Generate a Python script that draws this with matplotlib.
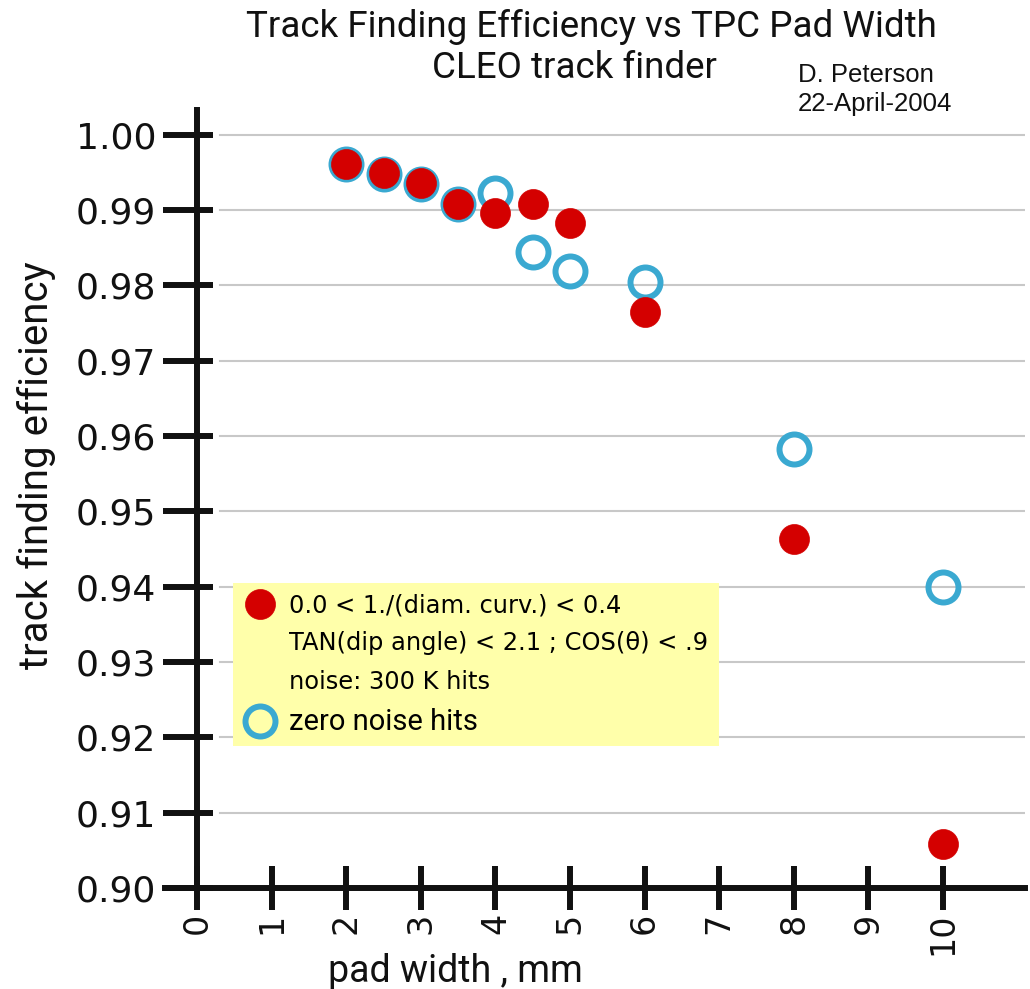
import matplotlib
matplotlib.use('Agg')
import matplotlib.pyplot as plt
from matplotlib.lines import Line2D

# pad width in mm
pad_width = [2, 2.5, 3, 3.5, 4, 4.5, 5, 6, 8, 10]
# efficiency with 300 K noise hits (red dots)
eff_noise = [0.9961, 0.9949, 0.9936, 0.9908, 0.9896, 0.9908, 0.9883, 0.9765, 0.9464, 0.9059]
# efficiency with zero noise hits (blue rings)
eff_zero = [0.9961, 0.9948, 0.9935, 0.9908, 0.9923, 0.9844, 0.9819, 0.9805, 0.9583, 0.9399]

x_ticks = [0, 1, 2, 3, 4, 5, 6, 7, 8, 9, 10]
y_ticks = [0.90, 0.91, 0.92, 0.93, 0.94, 0.95, 0.96, 0.97, 0.98, 0.99, 1.00]
y_tick_labels = ['0.90', '0.91', '0.92', '0.93', '0.94', '0.95',
                 '0.96', '0.97', '0.98', '0.99', '1.00']

legend_labels = ['0.0 < 1./(diam. curv.) < 0.4',
                 'TAN(dip angle) < 2.1 ; COS(θ) < .9',
                 'noise: 300 K hits',
                 'zero noise hits']

red = '#D40000'
blue = '#3AA9D1'
ink = '#111111'
narrow = ['Roboto', 'DejaVu Sans']
arial = ['Liberation Sans', 'DejaVu Sans']

fig = plt.figure(figsize=(10.3, 9.89), dpi=100)
ax = fig.add_axes([0.1602, 0.1021, 0.8350, 0.7867])
ax.set_xlim(-0.429, 11.1)
ax.set_ylim(0.9, 1.0033)

for s in ['top', 'right']:
    ax.spines[s].set_visible(False)
ax.spines['left'].set_position(('data', 0))
for s in ['left', 'bottom']:
    ax.spines[s].set_linewidth(4.3)
    ax.spines[s].set_color(ink)

# light grid lines, start a bit right of the y axis
for yv in y_ticks[1:]:
    ax.axhline(yv, xmin=0.064, xmax=1, color='#C8C8C8', lw=1.5, zorder=0.5)

blue_line, = ax.plot(pad_width, eff_zero, ls='none', marker='o', ms=21.6,
                     mfc='none', mec=blue, mew=4.3, zorder=3)
red_line, = ax.plot(pad_width, eff_noise, ls='none', marker='o', ms=21.6,
                    mfc=red, mec=red, mew=0.5, zorder=4)

# y ticks: long part outside, short part inside the axis
ax.set_yticks(y_ticks, y_tick_labels)
ax.set_yticks(y_ticks, minor=True)
ax.yaxis.remove_overlapping_locs = False
ax.tick_params(axis='y', which='major', direction='out', length=24.5, width=4.3,
               pad=5, labelsize=26, color=ink, labelcolor=ink)
ax.tick_params(axis='y', which='minor', direction='in', length=11.5, width=4.3, color=ink)

ax.set_xticks(x_ticks)
ax.tick_params(axis='x', which='major', direction='inout', length=31.7, width=4.3,
               pad=2, labelsize=24, labelrotation=90, color=ink, labelcolor=ink)
ax.tick_params(axis='x', which='minor', bottom=False)

ax.set_ylabel('track finding efficiency', family=narrow, fontsize=29, va='center', color=ink)
ax.yaxis.set_label_coords(-0.149, 0.544)
ax.set_xlabel('pad width , mm', family=narrow, fontsize=27, va='center', color=ink)
ax.xaxis.set_label_coords(0.338, -0.107)

fig.text(591 / 1030, 1 - 27 / 989, 'Track Finding Efficiency vs TPC Pad Width',
         ha='center', va='center', family=narrow, fontsize=26.5, color=ink)
fig.text(575 / 1030, 1 - 68 / 989, 'CLEO track finder',
         ha='center', va='center', family=narrow, fontsize=26.5, color=ink)
fig.text(798 / 1030, 1 - 75 / 989, 'D. Peterson', ha='left', va='center',
         family=arial, fontsize=18.5, color=ink)
fig.text(798 / 1030, 1 - 104 / 989, '22-April-2004', ha='left', va='center',
         family=arial, fontsize=18.5, color=ink)

blank = Line2D([], [], ls='none')
leg = ax.legend([red_line, blank, blank, blue_line], legend_labels,
                loc='upper left', bbox_to_anchor=(0.079, 0.392), borderaxespad=0,
                frameon=True, fancybox=False, facecolor='#FFFFAA', edgecolor='none',
                framealpha=1, fontsize=17.4, labelspacing=0.59, handlelength=1.44,
                handletextpad=0.47, borderpad=0.42, numpoints=1)
zt = leg.get_texts()[3]
zt.set_fontfamily(narrow)
zt.set_fontsize(21)

fig.savefig('out.png', dpi=100)
